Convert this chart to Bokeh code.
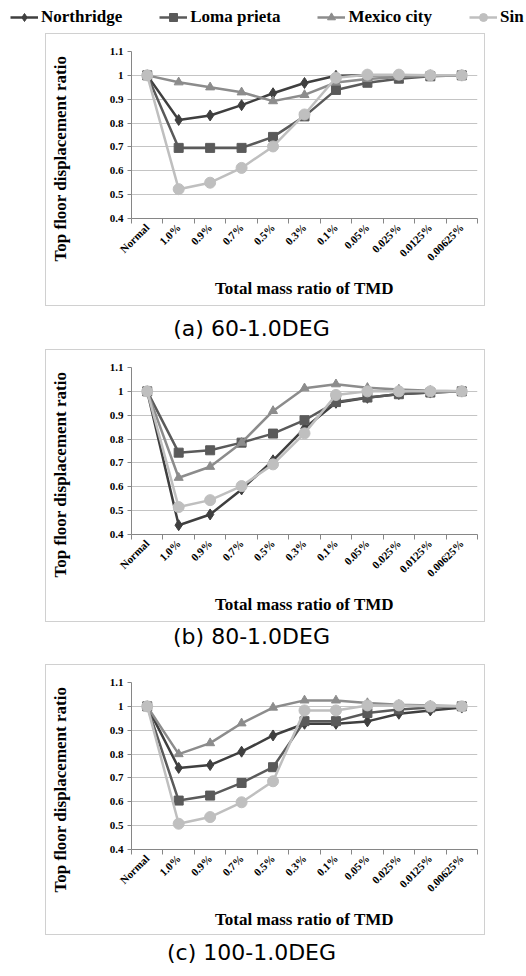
import math
from bokeh.plotting import figure
from bokeh.layouts import column
from bokeh.models import Range1d, FixedTicker, Legend, LegendItem, Label, Title
from bokeh.embed import file_html
from bokeh.resources import INLINE

categories = ["Normal", "1.0%", "0.9%", "0.7%", "0.5%", "0.3%", "0.1%",
              "0.05%", "0.025%", "0.0125%", "0.00625%"]
series_names = ["Northridge", "Loma prieta", "Mexico city", "Sin"]
y_ticks = [0.4, 0.5, 0.6, 0.7, 0.8, 0.9, 1.0, 1.1]
y_tick_labels = ["0.4", "0.5", "0.6", "0.7", "0.8", "0.9", "1", "1.1"]

a_northridge = [1.0, 0.813, 0.832, 0.875, 0.925, 0.968, 0.998, 1.0, 1.0, 1.0, 1.0]
a_loma = [1.0, 0.696, 0.696, 0.696, 0.742, 0.828, 0.939, 0.969, 0.986, 0.996, 1.0]
a_mexico = [1.0, 0.971, 0.950, 0.929, 0.892, 0.918, 0.970, 0.985, 0.993, 0.998, 1.0]
a_sin = [1.0, 0.523, 0.550, 0.612, 0.702, 0.836, 0.990, 1.003, 1.003, 1.0, 1.0]

b_northridge = [1.0, 0.439, 0.484, 0.589, 0.711, 0.845, 0.952, 0.973, 0.989, 0.995, 1.0]
b_loma = [1.0, 0.743, 0.753, 0.785, 0.823, 0.879, 0.955, 0.974, 0.988, 0.995, 1.0]
b_mexico = [1.0, 0.638, 0.684, 0.785, 0.918, 1.013, 1.030, 1.015, 1.008, 1.003, 1.0]
b_sin = [1.0, 0.515, 0.544, 0.603, 0.694, 0.824, 0.985, 1.0, 1.0, 1.0, 1.0]

c_northridge = [1.0, 0.742, 0.754, 0.810, 0.878, 0.927, 0.927, 0.937, 0.969, 0.983, 0.995]
c_loma = [1.0, 0.605, 0.626, 0.679, 0.745, 0.938, 0.938, 0.972, 0.987, 0.995, 1.0]
c_mexico = [1.0, 0.800, 0.846, 0.929, 0.995, 1.025, 1.025, 1.014, 1.007, 1.004, 1.0]
c_sin = [1.0, 0.508, 0.536, 0.598, 0.686, 0.983, 0.983, 1.004, 1.004, 1.0, 1.0]

panel_titles = ["(a) 60-1.0DEG", "(b) 80-1.0DEG", "(c) 100-1.0DEG"]
x_title = "Total mass ratio of TMD"
y_title = "Top floor displacement ratio"

COLORS = ["#3f3f3f", "#5a5a5a", "#8c8c8c", "#bfbfbf"]
MARKERS = ["diamond", "square", "triangle", "circle"]
SIZES = [11, 9, 9, 11]
SERIF = "Liberation Serif"
AXIS_GREY = "#868686"
PAGE_W = 526


def make_panel(values, total_h):
    inner_h = total_h - 2
    frame_h = 167
    top = 17
    p = figure(width=440, height=inner_h,
               x_range=Range1d(0, len(categories)), y_range=Range1d(0.4, 1.1),
               output_backend="svg", toolbar_location=None,
               min_border_left=85, min_border_right=9, min_border_top=top,
               min_border_bottom=inner_h - top - frame_h,
               outline_line_color=None, frame_align=False,
               styles={"border": "1px solid #d0d0d0"},
               margin=(0, 0, 0, 45))
    xs = [i + 0.5 for i in range(len(categories))]
    for vals, col, mk, sz in zip(values, COLORS, MARKERS, SIZES):
        p.line(xs, vals, line_color=col, line_width=2.5)
        p.scatter(xs, vals, marker=mk, size=sz, fill_color=col, line_color=col)

    xa = p.xaxis[0]
    xa.ticker = FixedTicker(ticks=xs, minor_ticks=list(range(len(categories) + 1)))
    xa.major_label_overrides = {x: c for x, c in zip(xs, categories)}
    xa.major_label_orientation = math.pi / 4
    xa.major_tick_line_color = None
    xa.major_tick_out = 5
    xa.major_tick_in = 0
    xa.major_label_standoff = 2
    xa.minor_tick_line_color = AXIS_GREY
    xa.minor_tick_out = 5
    xa.minor_tick_in = 0
    xa.axis_line_color = AXIS_GREY
    xa.major_label_text_font = SERIF
    xa.major_label_text_font_style = "bold"
    xa.major_label_text_font_size = "11px"
    xa.major_label_text_color = "black"
    xa.axis_label = x_title
    xa.axis_label_text_font = SERIF
    xa.axis_label_text_font_style = "bold"
    xa.axis_label_text_font_size = "17px"
    xa.axis_label_text_color = "black"
    xa.axis_label_standoff = 9

    ya = p.yaxis[0]
    ya.ticker = FixedTicker(ticks=y_ticks)
    ya.major_label_overrides = {t: s for t, s in zip(y_ticks, y_tick_labels)}
    ya.major_tick_line_color = AXIS_GREY
    ya.major_tick_out = 4
    ya.major_tick_in = 0
    ya.minor_tick_line_color = None
    ya.axis_line_color = AXIS_GREY
    ya.major_label_standoff = 4
    ya.major_label_text_font = SERIF
    ya.major_label_text_font_style = "bold"
    ya.major_label_text_font_size = "11px"
    ya.major_label_text_color = "black"
    # blank axis label only reserves room so the title below sits further out
    ya.axis_label = "\u00a0"
    ya.axis_label_text_font = SERIF
    ya.axis_label_text_font_size = "17px"
    ya.axis_label_standoff = 15

    # y-axis title: starts below the frame bottom, as in the original chart box
    p.add_layout(Title(text=y_title, align="left", offset=-43, standoff=0,
                       text_font=SERIF, text_font_style="bold",
                       text_font_size="17px", text_color="black"), "left")

    p.xgrid.visible = False
    p.ygrid.ticker = FixedTicker(ticks=y_ticks)
    p.ygrid.grid_line_color = "#c4c4c4"
    p.ygrid.grid_line_width = 1
    return p


def strip(h):
    s = figure(width=PAGE_W, height=h,
               x_range=Range1d(0, PAGE_W), y_range=Range1d(0, h),
               output_backend="svg", toolbar_location=None, min_border=0,
               frame_align=False,
               x_axis_location=None, y_axis_location=None, outline_line_color=None)
    s.grid.visible = False
    return s


def make_title(text, h, center_from_top):
    t = strip(h)
    t.add_layout(Label(x=251, y=h - center_from_top, text=text, text_align="center",
                       text_baseline="middle", text_font="DejaVu Sans",
                       text_font_size="22px", text_color="black"))
    return t


# Legend strip
nan = float("nan")
leg = strip(33)
items = []
for name, col, mk, sz in zip(series_names, COLORS, MARKERS, SIZES):
    rl = leg.line(x=[nan], y=[nan], line_color=col, line_width=2.5)
    rs = leg.scatter(x=[nan], y=[nan], marker=mk, size=sz, fill_color=col, line_color=col)
    items.append(LegendItem(label=name, renderers=[rl, rs]))
legend = Legend(items=items, orientation="horizontal", location=(10, 6),
                glyph_width=28, glyph_height=20, label_standoff=3, spacing=37,
                padding=0, margin=0, border_line_color=None, background_fill_alpha=0,
                label_text_font=SERIF, label_text_font_style="bold",
                label_text_font_size="17px", label_text_color="black")
leg.add_layout(legend, "center")

pa = make_panel([a_northridge, a_loma, a_mexico, a_sin], 275)
ta = make_title(panel_titles[0], 43, 22)
pb = make_panel([b_northridge, b_loma, b_mexico, b_sin], 275)
tb = make_title(panel_titles[1], 42, 14)
pc = make_panel([c_northridge, c_loma, c_mexico, c_sin], 273)
tc = make_title(panel_titles[2], 35, 17)

layout = column(leg, pa, ta, pb, tb, pc, tc, spacing=0)
open("out.html", "w").write(file_html(layout, INLINE))
